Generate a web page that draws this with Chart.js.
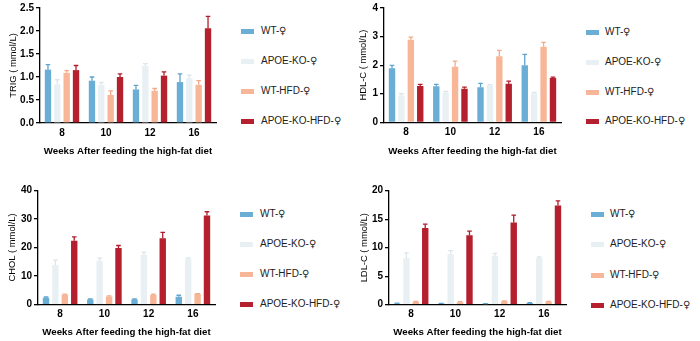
<!DOCTYPE html>
<html>
<head>
<meta charset="utf-8">
<script src="https://cdn.jsdelivr.net/npm/chart.js@4.4.1/dist/chart.umd.min.js"></script>
<style>
  @font-face { font-family: "FemSym"; src: local("DejaVu Sans"); unicode-range: U+2640; }
  html, body { margin: 0; padding: 0; background: #ffffff; }
  body { width: 700px; height: 341px; position: relative; overflow: hidden; font-family: "Liberation Sans", Arial, sans-serif; }
  canvas { position: absolute; }
  .legend { position: absolute; }
  .legend .item { position: absolute; left: 0; height: 14px; white-space: nowrap; }
  .legend .sw { position: absolute; left: 0; top: 5px; width: 13px; height: 5px; }
  .legend .tx { position: absolute; top: 0; font-family: "FemSym", "Liberation Sans", Arial, sans-serif; font-size: 10px; line-height: 14px; color: #222; }
</style>
</head>
<body>
<canvas id="c1"></canvas>
<canvas id="c2"></canvas>
<canvas id="c3"></canvas>
<canvas id="c4"></canvas>
<div class="legend" id="l1"></div>
<div class="legend" id="l2"></div>
<div class="legend" id="l3"></div>
<div class="legend" id="l4"></div>
<script>
// ---------- data ----------
const weeks = ['8', '10', '12', '16'];
const groups = ['WT-♀', 'APOE-KO-♀', 'WT-HFD-♀', 'APOE-KO-HFD-♀'];
const xTitle = 'Weeks After feeding the high-fat diet';

// TRIG (mmol/L): mean and SD per group, by week
const trigWT        = [1.16, 0.92, 0.73, 0.89];
const trigKO        = [0.84, 0.83, 1.24, 0.97];
const trigWTHFD     = [1.09, 0.61, 0.70, 0.83];
const trigKOHFD     = [1.15, 1.00, 1.03, 2.06];
const trigWTsd      = [0.11, 0.08, 0.09, 0.18];
const trigKOsd      = [0.10, 0.05, 0.05, 0.07];
const trigWTHFDsd   = [0.05, 0.09, 0.05, 0.09];
const trigKOHFDsd   = [0.10, 0.07, 0.08, 0.26];

// HDL-C (mmol/L)
const hdlWT        = [1.89, 1.26, 1.23, 2.00];
const hdlKO        = [0.94, 1.04, 1.29, 1.02];
const hdlWTHFD     = [2.89, 1.94, 2.31, 2.64];
const hdlKOHFD     = [1.27, 1.17, 1.35, 1.55];
const hdlWTsd      = [0.10, 0.07, 0.13, 0.38];
const hdlKOsd      = [0.06, 0.04, 0.03, 0.03];
const hdlWTHFDsd   = [0.09, 0.20, 0.21, 0.16];
const hdlKOHFDsd   = [0.06, 0.06, 0.09, 0.03];

// CHOL (mmol/L)
const cholWT       = [2.4, 1.8, 1.8, 2.8];
const cholKO       = [13.9, 15.4, 17.5, 16.1];
const cholWTHFD    = [3.5, 2.9, 3.4, 3.7];
const cholKOHFD    = [22.4, 19.8, 23.2, 31.2];
const cholWTsd     = [0.3, 0.2, 0.2, 0.5];
const cholKOsd     = [1.7, 0.9, 0.9, 0.3];
const cholWTHFDsd  = [0.2, 0.2, 0.3, 0.2];
const cholKOHFDsd  = [1.3, 0.9, 2.1, 1.3];

// LDL-C (mmol/L)
const ldlWT        = [0.22, 0.20, 0.15, 0.30];
const ldlKO        = [8.2, 8.9, 8.6, 8.2];
const ldlWTHFD     = [0.50, 0.45, 0.60, 0.50];
const ldlKOHFD     = [13.45, 12.2, 14.4, 17.4];
const ldlWTsd      = [0.05, 0.05, 0.05, 0.05];
const ldlKOsd      = [0.9, 0.6, 0.4, 0.2];
const ldlWTHFDsd   = [0.08, 0.08, 0.08, 0.08];
const ldlKOHFDsd   = [0.7, 0.7, 1.3, 0.8];

// tick settings
const trigTicks = { max: 2.5, step: 0.5, decimals: 1 };
const hdlTicks  = { max: 4,   step: 1,   decimals: 0 };
const cholTicks = { max: 40,  step: 10,  decimals: 0 };
const ldlTicks  = { max: 20,  step: 5,   decimals: 0 };

// ---------- styles ----------
const barColors = ['#6aaed5', '#e9f0f4', '#f7b698', '#b5202e'];
const errColors = ['#5fa4cf', '#dbe5ea', '#f2a98a', '#b01d2b'];
const FONT = '"Liberation Sans", Arial, sans-serif';

const errorBars = {
  id: 'errorBars',
  afterDatasetsDraw(chart) {
    const ctx = chart.ctx;
    const ys = chart.scales.y;
    chart.data.datasets.forEach((ds, i) => {
      const meta = chart.getDatasetMeta(i);
      meta.data.forEach((bar, j) => {
        const v = ds.data[j], e = ds.errors[j];
        const y0 = ys.getPixelForValue(v);
        const y1 = ys.getPixelForValue(v + e);
        ctx.save();
        ctx.strokeStyle = ds.errColor;
        ctx.lineWidth = 1.3;
        ctx.beginPath();
        ctx.moveTo(bar.x, y0);
        ctx.lineTo(bar.x, y1);
        ctx.moveTo(bar.x - 2.3, y1);
        ctx.lineTo(bar.x + 2.3, y1);
        ctx.stroke();
        ctx.restore();
      });
    });
  }
};

function makeChart(id, pos, yTitle, series, sds, tick) {
  const cv = document.getElementById(id);
  cv.width = pos.w; cv.height = pos.h;
  cv.style.left = pos.x + 'px'; cv.style.top = pos.y + 'px';
  cv.style.width = pos.w + 'px'; cv.style.height = pos.h + 'px';
  return new Chart(cv, {
    type: 'bar',
    data: {
      labels: weeks,
      datasets: groups.map((g, i) => ({
        label: g,
        data: series[i],
        errors: sds[i],
        errColor: errColors[i],
        backgroundColor: barColors[i],
        borderWidth: 0,
        categoryPercentage: 0.85,
        barPercentage: 0.68
      }))
    },
    options: {
      responsive: false,
      devicePixelRatio: 1,
      animation: false,
      layout: { padding: { top: pos.padTop, right: pos.padRight, left: 0, bottom: 0 } },
      plugins: { legend: { display: false }, tooltip: { enabled: false } },
      scales: {
        x: {
          offset: true,
          grid: { display: false, drawTicks: false, tickLength: 0 },
          border: { display: true, color: '#000', width: 1.3 },
          ticks: { color: '#000', font: { family: FONT, size: 10, weight: 'bold' }, padding: pos.xTickPad },
          title: { display: true, text: xTitle, color: '#000',
                   font: { family: FONT, size: 9.7, weight: 'bold' },
                   padding: { top: 0, bottom: pos.xTitlePad } },
          afterFit: (s) => { s.height = pos.xH; }
        },
        y: {
          min: 0, max: tick.max,
          grid: { drawOnChartArea: false, drawTicks: true, tickLength: 4, color: '#000', lineWidth: 1.3 },
          border: { display: true, color: '#000', width: 1.3 },
          ticks: { stepSize: tick.step, color: '#000', padding: 2,
                   font: { family: FONT, size: 10, weight: 'bold' },
                   callback: (v) => Number(v).toFixed(tick.decimals) },
          title: { display: true, text: yTitle, color: '#000',
                   font: { family: FONT, size: 9.4 },
                   padding: { top: pos.yTitlePad, bottom: 0 } },
          afterFit: (s) => { s.width = pos.yW; }
        }
      }
    },
    plugins: [errorBars]
  });
}

makeChart('c1', { x: 0, y: 0, w: 220, h: 170, padTop: 8, padRight: 4, xH: 47, yW: 40,
                  xTickPad: 4, xTitlePad: 13, yTitlePad: 7.4 },
          'TRIG ( mmol/L)', [trigWT, trigKO, trigWTHFD, trigKOHFD],
          [trigWTsd, trigKOsd, trigWTHFDsd, trigKOHFDsd], trigTicks);

makeChart('c2', { x: 344, y: 0, w: 220, h: 170, padTop: 8, padRight: 3, xH: 47.7, yW: 40,
                  xTickPad: 4, xTitlePad: 13, yTitlePad: 13.9 },
          'HDL-C ( mmol/L)', [hdlWT, hdlKO, hdlWTHFD, hdlKOHFD],
          [hdlWTsd, hdlKOsd, hdlWTHFDsd, hdlKOHFDsd], hdlTicks);

makeChart('c3', { x: 0, y: 180, w: 220, h: 161, padTop: 10.3, padRight: 5, xH: 36.3, yW: 38,
                  xTickPad: 4, xTitlePad: 2.7, yTitlePad: 7 },
          'CHOL ( mmol/L)', [cholWT, cholKO, cholWTHFD, cholKOHFD],
          [cholWTsd, cholKOsd, cholWTHFDsd, cholKOHFDsd], cholTicks);

makeChart('c4', { x: 349, y: 180, w: 220, h: 161, padTop: 10.7, padRight: 3, xH: 36.3, yW: 40,
                  xTickPad: 4, xTitlePad: 2.7, yTitlePad: 10 },
          'LDL-C ( mmol/L)', [ldlWT, ldlKO, ldlWTHFD, ldlKOHFD],
          [ldlWTsd, ldlKOsd, ldlWTHFDsd, ldlKOHFDsd], ldlTicks);

// ---------- HTML legends built from the groups / colours ----------
function makeLegend(id, x, y, textGap, rowYs) {
  const el = document.getElementById(id);
  el.style.left = x + 'px';
  el.style.top = y + 'px';
  groups.forEach((g, i) => {
    const it = document.createElement('div');
    it.className = 'item';
    it.style.top = (rowYs[i] - 7) + 'px';
    const sw = document.createElement('div');
    sw.className = 'sw';
    sw.style.background = barColors[i];
    const tx = document.createElement('div');
    tx.className = 'tx';
    tx.style.left = textGap + 'px';
    tx.textContent = g;
    it.appendChild(sw); it.appendChild(tx);
    el.appendChild(it);
  });
}
makeLegend('l1', 241, 0, 20, [31, 61, 91, 120.5]);
makeLegend('l2', 586, 0, 19, [31.5, 61.5, 91.5, 120.5]);
makeLegend('l3', 240, 0, 20, [214, 244, 274, 304]);
makeLegend('l4', 591, 0, 19, [213.5, 244, 275, 304.5]);
</script>
</body>
</html>
